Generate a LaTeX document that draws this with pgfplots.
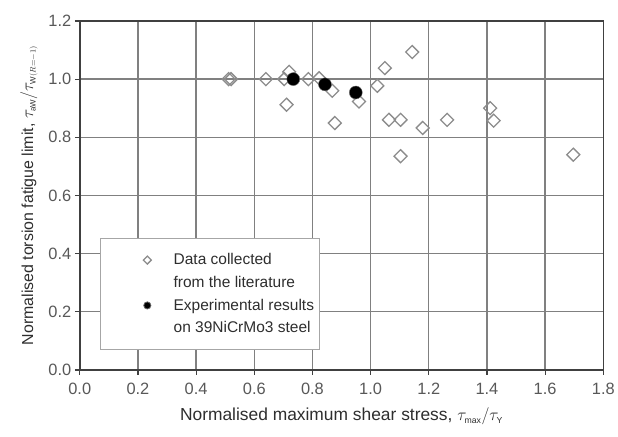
\documentclass[border=0pt]{standalone}
\usepackage{pgfplots}
\pgfplotsset{compat=1.18}
\usepackage{fontspec}
\setmainfont{Liberation Sans}
\definecolor{txt}{HTML}{2E2E2E}
\definecolor{gridc}{HTML}{808080}
\begin{document}
\begin{tikzpicture}
\begin{axis}[
  name=ax,
  scale only axis,
  width=525bp, height=350bp,
  xmin=0, xmax=1.8, ymin=0, ymax=1.2,
  xtick={0,0.2,...,1.8}, ytick={0,0.2,...,1.2},
  xticklabel style={/pgf/number format/fixed,/pgf/number format/fixed zerofill,/pgf/number format/precision=1, yshift=-5bp},
  yticklabel style={/pgf/number format/fixed,/pgf/number format/fixed zerofill,/pgf/number format/precision=1},
  /pgf/number format/assume math mode=true,
  tick label style={font=\fontsize{16.5}{18}\selectfont, text=txt!80},
  xlabel style={font=\fontsize{17.5}{20}\selectfont, text=txt, yshift=-6bp},
  ylabel style={font=\fontsize{16}{19}\selectfont, text=txt, yshift=4bp},
  xlabel={Normalised maximum shear stress, $\tau_{\scriptscriptstyle\mathrm{max}}/\tau_{\scriptscriptstyle\mathrm{Y}}$},
  ylabel={Normalised torsion fatigue limit, $\tau_{\scriptscriptstyle\mathrm{aW}}/\tau_{\scriptscriptstyle\mathrm{W}(R=-1)}$},
  grid=major,
  major grid style={gridc, line width=1.3pt},
  axis line style={black!75, line width=1.5pt},
  tick style={black!75, line width=1.2pt},
  tick align=outside, major tick length=5bp,
  xtick pos=bottom, ytick pos=left,
  legend style={at={(0.038,0.377)}, anchor=north west, draw=black!35, line width=0.8pt,
    font=\fontsize{15.6}{18}\selectfont, text=txt, cells={anchor=west},
    inner xsep=3bp, inner ysep=13bp, row sep=6bp},
  legend cell align=left,
]
\addplot[only marks, mark=square, mark size=4.6bp, mark options={rotate=45, draw=black!45, line width=1.3pt, fill=white},
  legend image code/.code={\path (0bp,0bp) (68bp,0bp); \draw[mark size=2.8bp, line width=1.2pt] plot coordinates {(44bp,0bp)};}]
coordinates {
(0.512,1.0) (0.52,1.0) (0.64,1.0) (0.703,1.0) (0.72,1.025) (0.711,0.912)
(0.786,1.0) (0.823,1.003) (0.868,0.96) (0.877,0.849) (0.96,0.923)
(1.023,0.977) (1.049,1.038) (1.143,1.093) (1.063,0.86) (1.103,0.86)
(1.103,0.735) (1.179,0.832) (1.263,0.86) (1.411,0.9) (1.423,0.857) (1.697,0.74)
};
\addlegendentry{Data collected}
\addlegendimage{empty legend}
\addlegendentry{from the literature}
\addplot[only marks, mark=*, mark size=6.5bp, mark options={draw=black!60, fill=black},
  legend image code/.code={\path (0bp,0bp) (68bp,0bp); \draw[mark size=3.6bp] plot coordinates {(44bp,0bp)};}]
coordinates {(0.734,1.0) (0.843,0.982) (0.949,0.954)};
\addlegendentry{Experimental results}
\addlegendimage{empty legend}
\addlegendentry{on 39NiCrMo3 steel}
\end{axis}
\path ([xshift=-80bp,yshift=-67bp]ax.south west) rectangle ([xshift=13bp,yshift=21bp]ax.north east);
\end{tikzpicture}
\end{document}
